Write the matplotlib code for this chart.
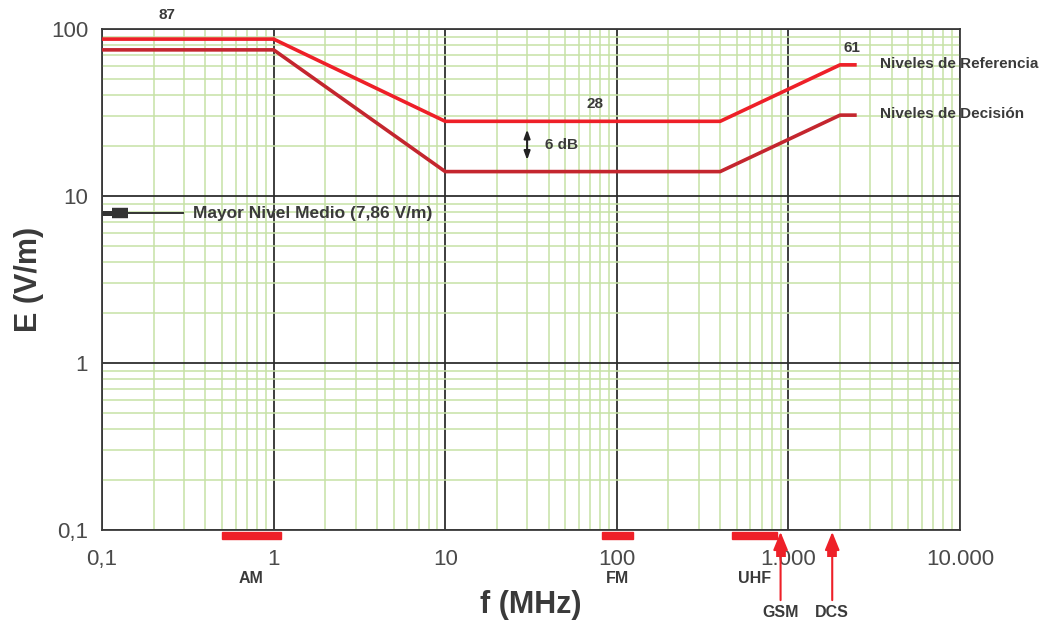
"""Reference and decision levels of E field versus frequency."""

import matplotlib

matplotlib.use("Agg")
import matplotlib.pyplot as plt
from matplotlib.patches import Rectangle
from matplotlib.ticker import FixedLocator, LogLocator, NullFormatter

# data
FREQ_REF = [0.1, 1, 10, 400, 2000, 2500]
E_REF = [87, 87, 28, 28, 61, 61]
FREQ_DEC = [0.1, 1, 10, 400, 2000, 2500]
E_DEC = [75, 75, 14, 14, 30.5, 30.5]

X_TICKS = [0.1, 1, 10, 100, 1000, 10000]
X_TICK_LABELS = ["0,1", "1", "10", "100", "1.000", "10.000"]
Y_TICKS = [0.1, 1, 10, 100]
Y_TICK_LABELS = ["0,1", "1", "10", "100"]

BAND_NAMES = ["AM", "FM", "UHF"]
BAND_LOW = [0.5, 82, 470]
BAND_HIGH = [1.1, 125, 860]
SERVICE_NAMES = ["GSM", "DCS"]
SERVICE_FREQ = [900, 1800]
MEAN_LEVEL = 7.86

RED_REF = "#ee2028"
RED_DEC = "#c4262e"
GRID_GREEN = "#c6e2a6"
TEXT_GRAY = "#3a3a3a"
TICK_GRAY = "#4a4a4a"

plt.rcParams["font.family"] = ["Liberation Sans", "DejaVu Sans"]

fig = plt.figure(figsize=(10.53, 6.25), dpi=100)
ax = fig.add_axes([0.0969, 0.152, 0.8148, 0.8016])
ax.set_xscale("log")
ax.set_yscale("log")
ax.set_xlim(0.1, 10000)
ax.set_ylim(0.1, 100)

ax.xaxis.set_minor_locator(LogLocator(base=10, subs=range(2, 10), numticks=20))
ax.yaxis.set_minor_locator(LogLocator(base=10, subs=range(2, 10), numticks=20))
ax.xaxis.set_minor_formatter(NullFormatter())
ax.yaxis.set_minor_formatter(NullFormatter())
ax.xaxis.set_major_locator(FixedLocator(X_TICKS))
ax.yaxis.set_major_locator(FixedLocator(Y_TICKS))
ax.set_xticklabels(X_TICK_LABELS)
ax.set_yticklabels(Y_TICK_LABELS)
ax.tick_params(which="both", length=0)
ax.tick_params(axis="x", pad=14, labelsize=16, labelcolor=TICK_GRAY)
ax.tick_params(axis="y", pad=10, labelsize=16, labelcolor=TICK_GRAY)

ax.grid(True, which="minor", color=GRID_GREEN, lw=1.1, zorder=0)
ax.grid(True, which="major", color="#2e2e2e", lw=1.3, zorder=1)
ax.set_axisbelow(True)
for spine in ax.spines.values():
    spine.set_color("#3a3a3a")
    spine.set_linewidth(1.3)

ax.plot(FREQ_REF, E_REF, color=RED_REF, lw=2.6, zorder=3, solid_capstyle="butt")
ax.plot(FREQ_DEC, E_DEC, color=RED_DEC, lw=2.6, zorder=3, solid_capstyle="butt")

ax.set_xlabel("f (MHz)", fontsize=22, fontweight="bold", color=TEXT_GRAY, labelpad=2)
ax.set_ylabel("E (V/m)", fontsize=22, fontweight="bold", color=TEXT_GRAY, labelpad=5)
ax.xaxis.set_label_coords(0.5, -0.12)

# value labels
small = dict(fontsize=11, fontweight="bold", color=TEXT_GRAY, clip_on=False)
ax.text(0.24, 121, "87", ha="center", va="center", **small)
ax.text(75, 35.5, "28", ha="center", va="center", **small)
ax.text(2360, 77, "61", ha="center", va="center", **small)
ax.text(3400, 62, "Niveles de Referencia", ha="left", va="center", **small)
ax.text(3400, 31, "Niveles de Decisión", ha="left", va="center", **small)

# 6 dB gap marker
ax.annotate("", xy=(30, 26), xytext=(30, 15.8),
            arrowprops=dict(arrowstyle="<|-|>,head_length=0.5,head_width=0.18",
                            color="#222222", lw=1.5))
ax.text(38, 20.2, "6 dB", ha="left", va="center", **small)

# highest mean level marker: thin line ending in a stepped block head
ax.plot([0.1, 0.296], [MEAN_LEVEL, MEAN_LEVEL], color="#333333", lw=1.4, zorder=4)
ax.plot([0.1, 0.116], [MEAN_LEVEL, MEAN_LEVEL], color="#333333", lw=3.6,
        solid_capstyle="butt", zorder=4)
ax.plot([0.114, 0.142], [MEAN_LEVEL, MEAN_LEVEL], color="#333333", lw=7.5,
        solid_capstyle="butt", zorder=4)
ax.text(0.34, MEAN_LEVEL, "Mayor Nivel Medio (7,86 V/m)", ha="left", va="center",
        fontsize=12.5, fontweight="bold", color=TEXT_GRAY)

# frequency bands under the axis
xt = ax.get_xaxis_transform()
for name, lo, hi in zip(BAND_NAMES, BAND_LOW, BAND_HIGH):
    ax.add_patch(Rectangle((lo, -0.018), hi - lo, 0.014, transform=xt,
                           color=RED_REF, clip_on=False, zorder=4))
    ax.text((lo * hi) ** 0.5, -0.096, name, transform=xt, ha="center", va="center",
            fontsize=11.5, fontweight="bold", color=TEXT_GRAY)

for name, f in zip(SERVICE_NAMES, SERVICE_FREQ):
    ax.annotate("", xy=(f, -0.004), xytext=(f, -0.14), xycoords=xt, textcoords=xt,
                annotation_clip=False,
                arrowprops=dict(arrowstyle="-|>,head_length=1.1,head_width=0.45",
                                color=RED_REF, lw=1.5, shrinkA=0, shrinkB=0))
    ax.plot([f, f], [-0.034, -0.054], transform=xt, color=RED_REF, lw=7,
            solid_capstyle="butt", clip_on=False, zorder=4)
    ax.text(f, -0.164, name, transform=xt, ha="center", va="center",
            fontsize=11.5, fontweight="bold", color=TEXT_GRAY)

fig.savefig("out.png", dpi=100)
